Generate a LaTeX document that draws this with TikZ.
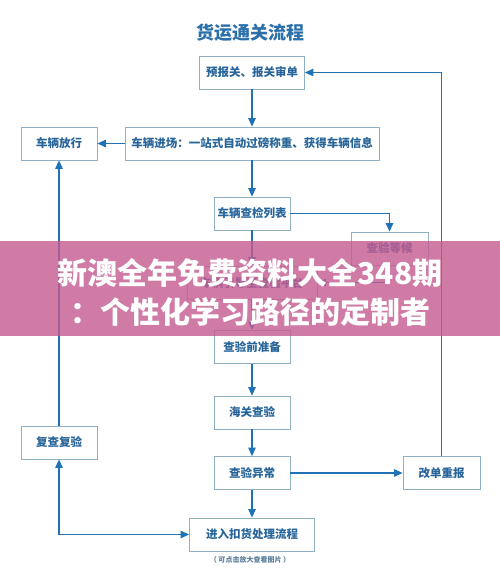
\documentclass[tikz,border=0pt]{standalone}
\usepackage{fontspec}
\newfontfamily\cjk{Noto Sans CJK SC}
\usetikzlibrary{arrows.meta}
\definecolor{boxline}{HTML}{8DB0C6}
\definecolor{boxtext}{HTML}{28659A}
\definecolor{arrowcolor}{HTML}{1F72B6}
\definecolor{titlecolor}{HTML}{2B70AB}
\definecolor{bannercolor}{HTML}{C45A8F}
\definecolor{notecolor}{HTML}{5C7E9C}
\tikzset{
  flow box/.style={draw=boxline,line width=.8pt,fill=white,text=boxtext,
    font=\cjk\bfseries\fontsize{11.5}{12}\selectfont,minimum height=33pt,inner sep=0pt},
  flow arrow/.style={arrowcolor,line width=1.1pt,-{Triangle[length=8.5pt,width=7.5pt]}},
  flow both/.style={arrowcolor,line width=1.1pt,{Triangle[length=8.5pt,width=7.5pt]}-{Triangle[length=8.5pt,width=7.5pt]}},
  banner text/.style={text=white,font=\cjk\bfseries\fontsize{30}{30}\selectfont}
}
\begin{document}
\begin{tikzpicture}[x=1pt,y=-1pt]
  \useasboundingbox[fill=white] (0,0) rectangle (500,578);
  \node[text=titlecolor,font=\cjk\bfseries\fontsize{18}{18}\selectfont] (title) at (250,33) {货运通关流程};
  % main column
  \node[flow box,minimum width=105pt] (declare) at (252,72.5) {预报关、报关审单};
  \node[flow box,minimum width=254pt] (entry) at (252,143.5) {车辆进场：一站式自动过磅称重、获得车辆信息};
  \node[flow box,minimum width=76pt] (release) at (59,143.5) {车辆放行};
  \node[flow box,minimum width=76pt] (list) at (252,213.5) {车辆查检列表};
  \node[flow box,minimum width=77pt] (wait) at (389.5,248.5) {查验等候};
  \node[flow box,minimum width=130pt] (guide) at (252,282.5) {车辆引导至查验平台};
  \node[flow box,minimum width=76pt] (prepare) at (252,347) {查验前准备};
  \node[flow box,minimum width=76pt] (inspect) at (252,412.5) {海关查验};
  \node[flow box,minimum width=76pt] (abnormal) at (252,473) {查验异常};
  \node[flow box,minimum width=125pt] (hold) at (252,534.5) {进入扣货处理流程};
  \node[flow box,minimum width=77pt] (redo) at (441.5,473) {改单重报};
  \node[flow box,minimum width=76pt] (recheck) at (59,442.5) {复查复验};
  \node[text=notecolor,font=\cjk\bfseries\fontsize{7}{8}\selectfont] (note) at (250,560) {（ 可点击放大查看图片 ）};
  % connectors
  \draw[flow arrow] (declare) -- (entry);
  \draw[flow arrow] (entry) -- (release);
  \draw[flow arrow] (entry) -- (list);
  \draw[flow arrow] (list.east) -| (wait.north);
  \draw[flow arrow] (list) -- (guide);
  \draw[flow arrow] (wait.south) |- (guide.east);
  \draw[flow arrow] (guide) -- (prepare);
  \draw[flow arrow] (prepare) -- (inspect);
  \draw[flow arrow] (inspect) -- (abnormal);
  \draw[flow arrow] (abnormal) -- (hold);
  \draw[flow arrow] (abnormal) -- (redo);
  \draw[flow arrow] (redo.north) |- (declare.east);
  \draw[flow arrow] (recheck) -- (release);
  \draw[flow both] (recheck.south) |- (hold.west);
  % banner
  \fill[bannercolor,opacity=.8] (0,241) rectangle (500,336);
  \node[banner text] (line1) at (250,273) {新澳全年免费资料大全348期};
  \node[banner text] (line2) at (250,312) {：个性化学习路径的定制者};
\end{tikzpicture}
\end{document}
